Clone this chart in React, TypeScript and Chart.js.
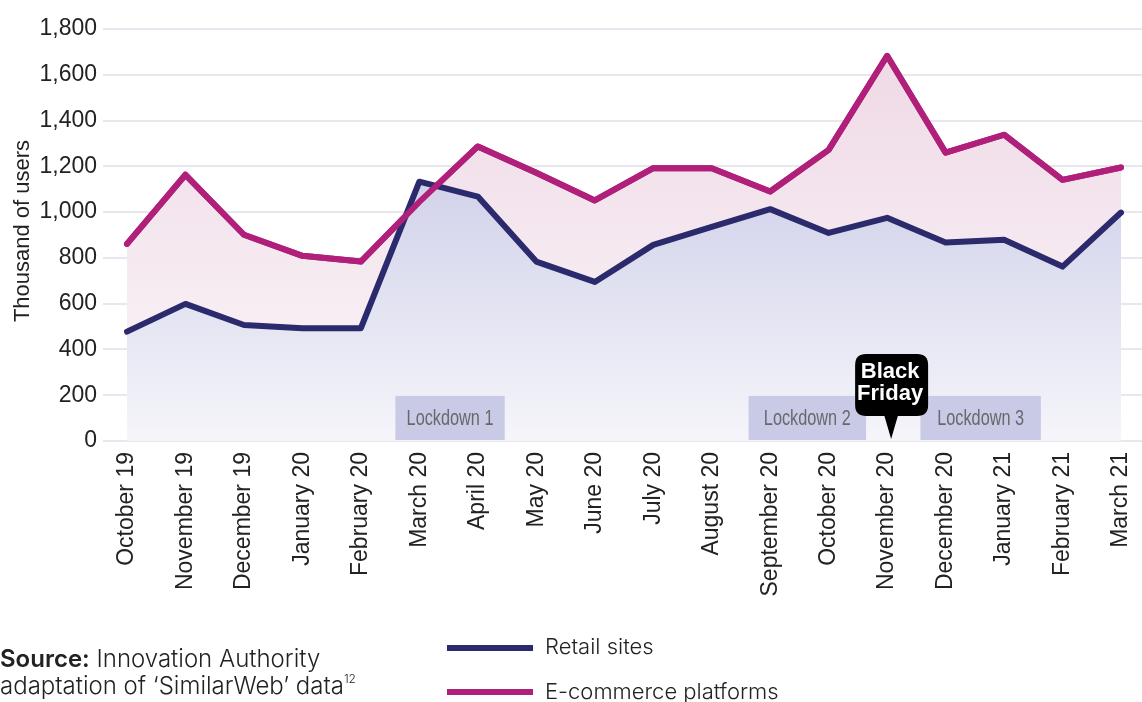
import React, { useEffect, useRef } from "react";
import { Chart, registerables } from "chart.js";

Chart.register(...registerables);

const months = [
  "October 19", "November 19", "December 19", "January 20", "February 20", "March 20",
  "April 20", "May 20", "June 20", "July 20", "August 20", "September 20",
  "October 20", "November 20", "December 20", "January 21", "February 21", "March 21",
];
const retailSites = [478, 599, 507, 493, 493, 1133, 1068, 784, 695, 857, 935, 1013, 909, 975, 867, 879, 762, 998];
const ecommercePlatforms = [861, 1163, 901, 809, 784, 1045, 1287, 1172, 1051, 1192, 1192, 1090, 1272, 1683, 1260, 1338, 1141, 1195];
const yTicks = [0, 200, 400, 600, 800, 1000, 1200, 1400, 1600, 1800];
const lockdownNames = ["Lockdown 1", "Lockdown 2", "Lockdown 3"];
const lockdownStart = [4.59, 10.63, 13.57];
const lockdownEnd = [6.46, 12.64, 15.63];
const blackFridayIndex = 13;

const RETAIL = "#2b2a6c";
const ECOM = "#b01f79";
const FONT = "'Liberation Sans', Arial, sans-serif";
const TEXTFONT = "Inter, 'Liberation Sans', Arial, sans-serif";

function roundRect(ctx: CanvasRenderingContext2D, x: number, y: number, w: number, h: number, r: number) {
  ctx.beginPath();
  ctx.moveTo(x + r, y);
  ctx.lineTo(x + w - r, y);
  ctx.quadraticCurveTo(x + w, y, x + w, y + r);
  ctx.lineTo(x + w, y + h - r);
  ctx.quadraticCurveTo(x + w, y + h, x + w - r, y + h);
  ctx.lineTo(x + r, y + h);
  ctx.quadraticCurveTo(x, y + h, x, y + h - r);
  ctx.lineTo(x, y + r);
  ctx.quadraticCurveTo(x, y, x + r, y);
  ctx.closePath();
}

const annotations = {
  id: "annotations",
  afterLayout(chart: any) {
    // pin the plot area to the reference frame
    const ca = chart.chartArea;
    ca.top = 29;
    ca.right = 1121;
    ca.width = ca.right - ca.left;
    ca.height = ca.bottom - ca.top;
    const xs = chart.scales.x;
    const ys = chart.scales.y;
    xs.right = 1121;
    xs.width = xs.right - xs.left;
    ys.top = 29;
    ys.height = ys.bottom - ys.top;
    xs.configure();
    ys.configure();
  },
  beforeDraw(chart: any) {
    const ctx = chart.ctx;
    const ys = chart.scales.y;
    const ca = chart.chartArea;
    ctx.save();
    ctx.strokeStyle = "#e8e7f0";
    ctx.lineWidth = 2;
    yTicks.forEach((v) => {
      const y = Math.round(ys.getPixelForValue(v));
      ctx.beginPath();
      ctx.moveTo(ca.left - 24, y);
      ctx.lineTo(chart.width, y);
      ctx.stroke();
    });
    ctx.fillStyle = "#222";
    ctx.font = `22px ${FONT}`;
    ctx.textAlign = "center";
    ctx.textBaseline = "middle";
    ctx.translate(23, 231);
    ctx.rotate(-Math.PI / 2);
    ctx.fillText("Thousand of users", 0, 0);
    ctx.restore();
  },
  afterDatasetsDraw(chart: any) {
    const ctx = chart.ctx;
    const xs = chart.scales.x;
    const ys = chart.scales.y;
    const ca = chart.chartArea;
    // e-commerce line passes over the retail line where they cross
    const ecomMeta = chart.getDatasetMeta(1);
    if (ecomMeta && ecomMeta.dataset) {
      ctx.save();
      ecomMeta.dataset.draw(ctx, ca);
      ctx.restore();
    }
    ctx.save();
    const top = ys.getPixelForValue(197);
    const bottom = ca.bottom - 1;
    lockdownNames.forEach((name, i) => {
      const x0 = xs.getPixelForValue(lockdownStart[i]);
      const x1 = xs.getPixelForValue(lockdownEnd[i]);
      ctx.fillStyle = "#c9cae6";
      ctx.fillRect(x0, top, x1 - x0, bottom - top);
      ctx.save();
      ctx.fillStyle = "#68686d";
      ctx.font = `22px ${FONT}`;
      ctx.textAlign = "center";
      ctx.textBaseline = "middle";
      ctx.translate((x0 + x1) / 2, (top + bottom) / 2 + 1);
      ctx.scale(0.74, 1);
      ctx.fillText(name, 0, 0);
      ctx.restore();
    });
    const cx = xs.getPixelForValue(blackFridayIndex) + 4;
    const bx = cx - 36;
    const by = ca.bottom - 87;
    const bw = 73;
    const bh = 62;
    ctx.fillStyle = "#000";
    roundRect(ctx, bx, by, bw, bh, 11);
    ctx.fill();
    ctx.beginPath();
    ctx.moveTo(cx - 7, by + bh - 1);
    ctx.lineTo(cx + 7, by + bh - 1);
    ctx.lineTo(cx, ca.bottom - 2);
    ctx.closePath();
    ctx.fill();
    ctx.fillStyle = "#fff";
    ctx.font = `bold 22px ${FONT}`;
    ctx.textAlign = "center";
    ctx.textBaseline = "middle";
    ctx.fillText("Black", cx - 1, by + 18);
    ctx.fillText("Friday", cx - 1, by + 40);
    ctx.restore();
  },
};

export default function App() {
  const ref = useRef<HTMLCanvasElement | null>(null);
  useEffect(() => {
    if (!ref.current) return;
    const chart = new Chart(ref.current, {
      type: "line",
      data: {
        labels: months,
        datasets: [
          {
            label: "Retail sites",
            data: retailSites,
            borderColor: RETAIL,
            borderWidth: 6,
            borderCapStyle: "round",
            borderJoinStyle: "round",
            pointRadius: 0,
            tension: 0,
            fill: "origin",
            backgroundColor: (c: any) => {
              const { chart } = c;
              const ca = chart.chartArea;
              if (!ca) return "#dcdcee";
              const ys = chart.scales.y;
              const g = chart.ctx.createLinearGradient(0, ys.getPixelForValue(1150), 0, ca.bottom);
              g.addColorStop(0, "#d1d2ea");
              g.addColorStop(1, "#f5f5fa");
              return g;
            },
          },
          {
            label: "E-commerce platforms",
            data: ecommercePlatforms,
            borderColor: ECOM,
            borderWidth: 6,
            borderCapStyle: "round",
            borderJoinStyle: "round",
            pointRadius: 0,
            tension: 0,
            fill: "origin",
            backgroundColor: (c: any) => {
              const { chart } = c;
              const ca = chart.chartArea;
              if (!ca) return "#f4e9f0";
              const ys = chart.scales.y;
              const g = chart.ctx.createLinearGradient(0, ys.getPixelForValue(1700), 0, ca.bottom);
              g.addColorStop(0, "#efd9e5");
              g.addColorStop(1, "#fbf7fa");
              return g;
            },
          },
        ],
      },
      options: {
        animation: false,
        responsive: false,
        maintainAspectRatio: false,
        layout: { padding: { top: 29, right: 21, left: 0, bottom: 0 } },
        plugins: {
          legend: { display: false },
          tooltip: { enabled: false },
        },
        scales: {
          x: {
            offset: false,
            grid: { display: false, drawTicks: false },
            border: { display: false },
            afterFit: (s: any) => { s.height = 261; },
            ticks: {
              autoSkip: false,
              maxRotation: 90,
              minRotation: 90,
              padding: 11,
              color: "#222",
              font: { family: FONT, size: 23 },
            },
          },
          y: {
            min: 0,
            max: 1800,
            grid: { display: false, drawTicks: false },
            border: { display: false },
            afterFit: (s: any) => { s.width = 127; },
            afterBuildTicks: (s: any) => { s.ticks = yTicks.map((v) => ({ value: v })); },
            ticks: {
              padding: 30,
              color: "#222",
              font: { family: FONT, size: 23 },
              callback: (v: any) => Number(v).toLocaleString("en-US"),
            },
          },
        },
      },
      plugins: [annotations],
    } as any);
    return () => chart.destroy();
  }, []);

  const legendText: React.CSSProperties = {
    position: "absolute",
    fontFamily: TEXTFONT,
    fontWeight: 300,
    fontSize: 22,
    color: "#222",
    lineHeight: "24px",
    whiteSpace: "nowrap",
  };

  return (
    <div style={{ position: "absolute", left: 0, top: 0, width: 1142, height: 702, background: "#fff", overflow: "hidden" }}>
      <canvas ref={ref} width={1142} height={702} style={{ position: "absolute", left: 0, top: 0, width: 1142, height: 702 }} />
      <div style={{ position: "absolute", left: 447, top: 645, width: 86, height: 6, background: RETAIL }} />
      <div style={{ ...legendText, left: 545, top: 634 }}>Retail sites</div>
      <div style={{ position: "absolute", left: 447, top: 689, width: 86, height: 6, background: ECOM }} />
      <div style={{ ...legendText, left: 545, top: 679 }}>E-commerce platforms</div>
      <div style={{ ...legendText, left: 0, top: 645, fontSize: 24, lineHeight: "27px" }}>
        <b style={{ fontWeight: 600 }}>Source:</b> Innovation Authority
        <br />
        adaptation of ‘SimilarWeb’ data<sup style={{ fontSize: 12, verticalAlign: "top", lineHeight: "14px" }}>12</sup>
      </div>
    </div>
  );
}
